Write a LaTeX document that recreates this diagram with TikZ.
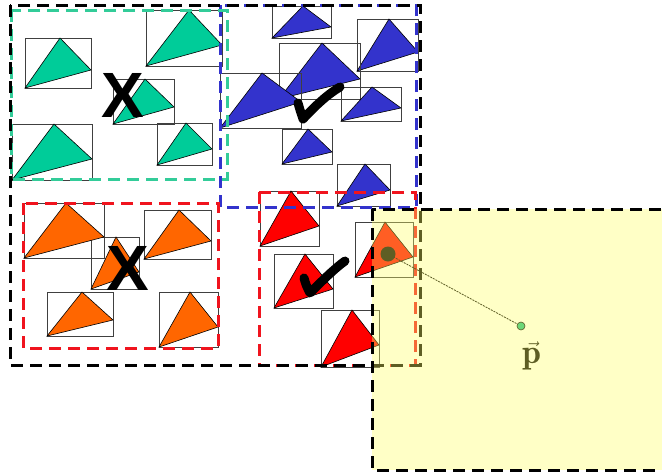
\documentclass[tikz,border=0pt]{standalone}
\usepackage{fontspec}
\newfontfamily\xfont{Liberation Sans}
\newfontfamily\pfont{Liberation Serif}
\definecolor{cgreen}{RGB}{0,204,153}
\definecolor{cblue}{RGB}{51,51,204}
\definecolor{corange}{RGB}{255,102,0}
\definecolor{cred}{RGB}{255,0,0}
\definecolor{dgreen}{RGB}{51,204,153}
\definecolor{dred}{RGB}{240,20,30}
\definecolor{ylw}{RGB}{255,255,100}
\definecolor{ptgreen}{RGB}{110,215,120}
\definecolor{olive}{RGB}{94,90,37}
\newcommand\tribox[7]{%
  \draw[bboxline] (#2,#3) rectangle (#4,#5);
  \filldraw[triline,fill=#1] (#2,#5) -- (#6,#3) -- (#4,#7) -- cycle;}
\begin{document}
\begin{tikzpicture}[x=1pt,y=-1pt,
  bboxline/.style={draw=black!75,line width=0.9pt},
  triline/.style={draw=black,line width=0.6pt},
  grp/.style={line width=3pt,dash pattern=on 12pt off 7pt},
  bigx/.style={font=\xfont\bfseries\fontsize{64}{64}\selectfont,inner sep=0pt},
  chk/.style={line width=9pt,line cap=round,line join=round},
]
\useasboundingbox (0,0) rectangle (662,474);
\clip (0,0) rectangle (662,474);
% green group
\tribox{cgreen}{25}{38}{91}{88}{60}{70}
\tribox{cgreen}{146}{10}{222}{66}{189}{45}
\tribox{cgreen}{113}{79}{174}{124}{145}{107}
\tribox{cgreen}{12}{124}{92}{180}{54}{159}
\tribox{cgreen}{157}{123}{212}{165}{186}{149}
% blue group
\tribox{cblue}{272}{6}{331}{38}{303}{27}
\tribox{cblue}{357}{19}{418}{71}{389}{52}
\tribox{cblue}{279}{43}{360}{99}{322}{79}
\tribox{cblue}{341}{87}{401}{121}{372}{108}
\tribox{cblue}{220}{73}{301}{128}{262}{102}
\tribox{cblue}{282}{129}{332}{164}{308}{152}
\tribox{cblue}{337}{164}{390}{206}{365}{190}
% orange group
\tribox{corange}{91}{237}{139}{289}{116}{272}
\tribox{corange}{24}{203}{104}{258}{66}{237}
\tribox{corange}{144}{210}{211}{259}{179}{241}
\tribox{corange}{47}{292}{113}{336}{82}{320}
\tribox{corange}{159}{292}{218}{347}{190}{327}
% red group
\tribox{cred}{260}{191}{319}{246}{291}{226}
\tribox{cred}{274}{254}{333}{308}{305}{289}
\tribox{cred}{355}{222}{413}{277}{385}{257}
\tribox{cred}{321}{310}{379}{367}{352}{345}
% marks
\node[bigx] (x1) at (123,95) {X};
\node[bigx] (x2) at (128,268) {X};
\draw[chk] (298,103) .. controls (300,110) .. (303,119) .. controls (315,106) and (328,94) .. (340,87);
\draw[chk] (304,278) .. controls (306,285) .. (310,293) .. controls (322,281) and (334,269) .. (345,261);
% group borders
\draw[grp,draw=cblue] (220,5) rectangle (416,207);
\draw[grp,draw=dgreen] (11,10) rectangle (227,179);
\draw[grp,draw=dred] (23,203) rectangle (218,348);
\draw[grp,draw=dred] (259,192) rectangle (415,365);
\draw[grp,draw=black] (10,5) rectangle (420,365);
% query point
\coordinate (pdot) at (388,254);
\coordinate (gdot) at (521,326);
\fill[black] (pdot) circle (7.5);
\draw[black,line width=0.8pt,dash pattern=on 2pt off 1pt] (pdot) -- (gdot);
\node[inner sep=0pt,font=\fontsize{34}{34}\selectfont] (plabel) at (532,356) {$\vec{\mathbf{p}}$};
% query region
\fill[ylw,opacity=0.37] (372,209) rectangle (664,470);
\draw[grp,draw=black] (372,209) rectangle (664,470);
\node[circle,draw=olive,fill=ptgreen,line width=0.6pt,minimum size=8pt,inner sep=0pt] (gpt) at (gdot) {};
\end{tikzpicture}
\end{document}
